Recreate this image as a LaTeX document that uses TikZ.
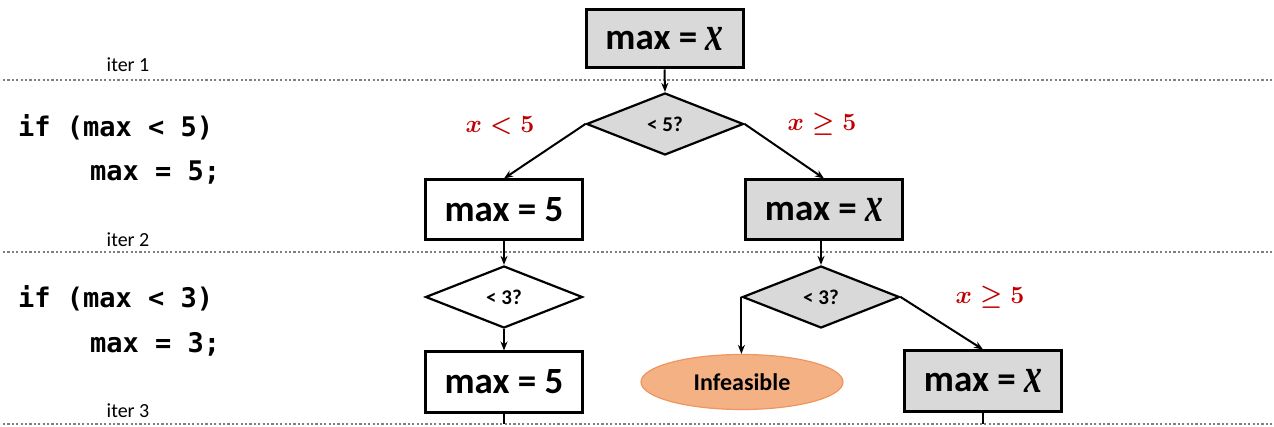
\documentclass[tikz,border=0pt]{standalone}
\usepackage{fontspec}
\usepackage{graphicx}
\setmainfont{Carlito}
\newfontfamily\codefont{DejaVu Sans Mono}
\newfontfamily\xfont{Liberation Serif}
\usetikzlibrary{shapes.geometric,arrows.meta}
\definecolor{boxgray}{HTML}{D9D9D9}
\definecolor{redlab}{HTML}{C00000}
\definecolor{inffill}{HTML}{F4B183}
\definecolor{infdraw}{HTML}{F0955F}
\definecolor{dotgray}{HTML}{7F7F7F}
\newcommand{\vx}{\raisebox{-1pt}{\scalebox{0.85}[1.2]{\fontsize{42}{42}\selectfont\xfont\bfseries\itshape x}}}
\tikzset{
  assign/.style={draw=black, line width=3pt, minimum width=157pt, minimum height=60pt, inner sep=0pt,
     font=\fontsize{37}{40}\selectfont\bfseries},
  grayfill/.style={fill=boxgray},
  cond/.style={diamond, draw=black, line width=2.2pt, minimum width=157pt, minimum height=62pt, inner sep=0pt,
     font=\fontsize{21}{24}\selectfont\bfseries},
  infe/.style={ellipse, draw=infdraw, fill=inffill, line width=1.2pt, minimum width=202pt, minimum height=55pt,
     inner sep=0pt, font=\fontsize{24}{28}\selectfont\bfseries},
  conn/.style={line width=2pt, -{Stealth[length=9pt,width=7pt]}},
  plain/.style={line width=2pt},
  sep/.style={draw=dotgray, line width=2.2pt, dash pattern=on 2.2pt off 2.2pt},
  iterlab/.style={font=\fontsize{20}{22}\selectfont, inner sep=0pt},
  code/.style={font=\fontsize{27}{30}\selectfont\codefont\bfseries, inner sep=0pt, anchor=west},
  redl/.style={text=redlab, font=\fontsize{31}{34}\selectfont\boldmath, inner sep=0pt},
}
\begin{document}
\begin{tikzpicture}[x=1pt,y=-1pt]
\useasboundingbox (0,0) rectangle (1274,427);
% separators
\coordinate (s1a) at (3,80); \coordinate (s1b) at (1274,80);
\coordinate (s2a) at (3,252); \coordinate (s2b) at (1274,252);
\coordinate (s3a) at (3,424); \coordinate (s3b) at (1274,424);
\draw[sep] (s1a) -- (s1b);
\draw[sep] (s2a) -- (s2b);
\draw[sep] (s3a) -- (s3b);
% iter labels
\node[iterlab] (it1) at (128,65) {iter 1};
\node[iterlab] (it2) at (128,240) {iter 2};
\node[iterlab] (it3) at (128,411) {iter 3};
% code
\node[code] (c1) at (18,127) {if (max < 5)};
\node[code] (c2) at (90,173) {max = 5;};
\node[code] (c3) at (18,298) {if (max < 3)};
\node[code] (c4) at (90,344) {max = 3;};
% nodes
\node[assign, grayfill, minimum height=58pt] (t1) at (664.5,39) {max = \vx};
\node[cond, fill=boxgray] (d1) at (665,124) {< 5?};
\node[assign] (b2) at (504,210) {max = 5};
\node[assign, grayfill] (b3) at (824,210) {max = \vx};
\node[cond, fill=white] (d2) at (504,297) {< 3?};
\node[cond, fill=boxgray] (d3) at (821,297) {< 3?};
\node[assign] (b4) at (504,382) {max = 5};
\node[infe] (inf) at (742,382) {Infeasible};
\node[assign, grayfill] (b5) at (983,381) {max = \vx};
\coordinate (e4) at (504,424);
\coordinate (e5) at (983,424);
% red labels
\node[redl] (r1) at (500,126) {$x<5$};
\node[redl] (r2) at (822,124) {$x\geq 5$};
\node[redl] (r3) at (990,297) {$x\geq 5$};
% connectors
\draw[conn] (t1.south) -- (d1.north);
\draw[conn] (d1.west) -- (b2.north);
\draw[conn] (d1.east) -- (b3.north);
\draw[conn] (b2.south) -- (d2.north);
\draw[conn] (d2.south) -- (b4.north);
\draw[conn] (b3.south -| d3.north) -- (d3.north);
\draw[conn] (d3.west) -- (d3.west |- inf.north);
\draw[conn] (d3.east) -- (b5.north);
\draw[plain] (b4.south) -- (e4);
\draw[plain] (b5.south) -- (e5);
\end{tikzpicture}
\end{document}
